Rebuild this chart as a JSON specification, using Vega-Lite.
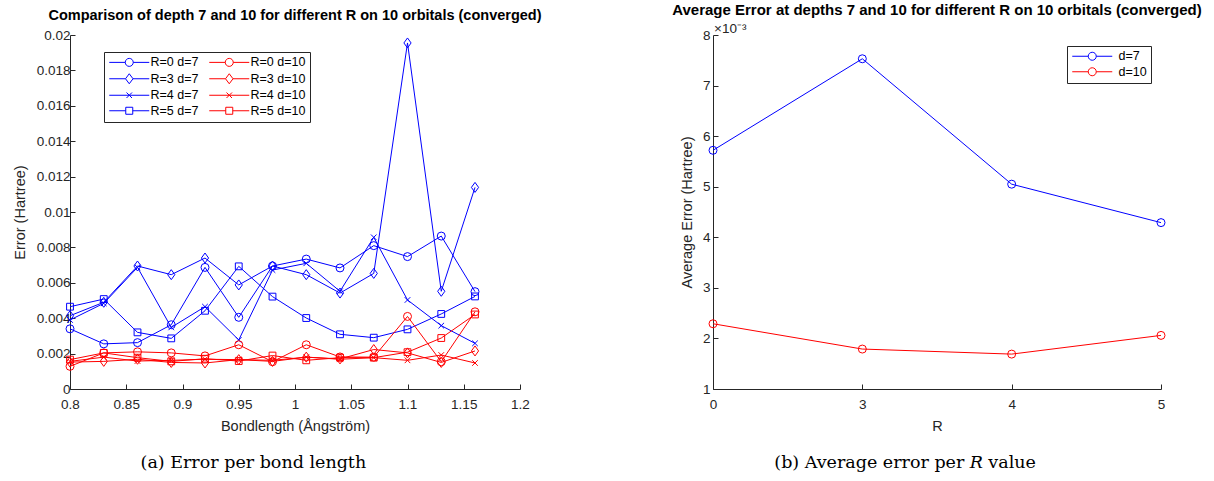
{
  "$schema": "https://vega.github.io/schema/vega-lite/v6.json",
  "background": "white",
  "padding": {"left": 12, "top": 3, "right": 4, "bottom": 4},
  "bounds": "flush",
  "spacing": 193,
  "resolve": {"scale": {"color": "independent", "shape": "independent"}, "legend": {"color": "independent"}},
  "config": {
    "view": {"stroke": null},
    "font": "Liberation Sans",
    "axis": {
      "grid": false,
      "domainColor": "#262626",
      "domainWidth": 1,
      "tickColor": "#262626",
      "tickWidth": 1,
      "tickSize": -5,
      "tickCount": 30,
      "labelColor": "#262626",
      "labelFont": "Liberation Sans",
      "labelFontSize": 13.5,
      "labelOverlap": false,
      "labelFlush": false,
      "titleColor": "#262626",
      "titleFont": "Liberation Sans",
      "titleFontSize": 14.5,
      "titleFontWeight": "normal"
    },
    "axisX": {"labelPadding": 13, "titlePadding": 9},
    "axisY": {"labelPadding": 5, "titlePadding": 9},
    "title": {"font": "Liberation Sans", "fontSize": 14.5, "fontWeight": "bold", "color": "black", "anchor": "middle"}
  },
  "datasets": {
    "bond": [
      {"b": 0.80, "s": "R=0 d=7", "R": "R=0", "e": 0.00340},
      {"b": 0.83, "s": "R=0 d=7", "R": "R=0", "e": 0.00255},
      {"b": 0.86, "s": "R=0 d=7", "R": "R=0", "e": 0.00262},
      {"b": 0.89, "s": "R=0 d=7", "R": "R=0", "e": 0.00363},
      {"b": 0.92, "s": "R=0 d=7", "R": "R=0", "e": 0.00687},
      {"b": 0.95, "s": "R=0 d=7", "R": "R=0", "e": 0.00405},
      {"b": 0.98, "s": "R=0 d=7", "R": "R=0", "e": 0.00695},
      {"b": 1.01, "s": "R=0 d=7", "R": "R=0", "e": 0.00734},
      {"b": 1.04, "s": "R=0 d=7", "R": "R=0", "e": 0.00684},
      {"b": 1.07, "s": "R=0 d=7", "R": "R=0", "e": 0.00810},
      {"b": 1.10, "s": "R=0 d=7", "R": "R=0", "e": 0.00748},
      {"b": 1.13, "s": "R=0 d=7", "R": "R=0", "e": 0.00864},
      {"b": 1.16, "s": "R=0 d=7", "R": "R=0", "e": 0.00550},

      {"b": 0.80, "s": "R=3 d=7", "R": "R=3", "e": 0.00414},
      {"b": 0.83, "s": "R=3 d=7", "R": "R=3", "e": 0.00490},
      {"b": 0.86, "s": "R=3 d=7", "R": "R=3", "e": 0.00695},
      {"b": 0.89, "s": "R=3 d=7", "R": "R=3", "e": 0.00646},
      {"b": 0.92, "s": "R=3 d=7", "R": "R=3", "e": 0.00740},
      {"b": 0.95, "s": "R=3 d=7", "R": "R=3", "e": 0.00588},
      {"b": 0.98, "s": "R=3 d=7", "R": "R=3", "e": 0.00695},
      {"b": 1.01, "s": "R=3 d=7", "R": "R=3", "e": 0.00646},
      {"b": 1.04, "s": "R=3 d=7", "R": "R=3", "e": 0.00542},
      {"b": 1.07, "s": "R=3 d=7", "R": "R=3", "e": 0.00653},
      {"b": 1.10, "s": "R=3 d=7", "R": "R=3", "e": 0.01955},
      {"b": 1.13, "s": "R=3 d=7", "R": "R=3", "e": 0.00552},
      {"b": 1.16, "s": "R=3 d=7", "R": "R=3", "e": 0.01139},

      {"b": 0.80, "s": "R=4 d=7", "R": "R=4", "e": 0.00390},
      {"b": 0.83, "s": "R=4 d=7", "R": "R=4", "e": 0.00484},
      {"b": 0.86, "s": "R=4 d=7", "R": "R=4", "e": 0.00687},
      {"b": 0.89, "s": "R=4 d=7", "R": "R=4", "e": 0.00348},
      {"b": 0.92, "s": "R=4 d=7", "R": "R=4", "e": 0.00465},
      {"b": 0.95, "s": "R=4 d=7", "R": "R=4", "e": 0.00277},
      {"b": 0.98, "s": "R=4 d=7", "R": "R=4", "e": 0.00672},
      {"b": 1.01, "s": "R=4 d=7", "R": "R=4", "e": 0.00710},
      {"b": 1.04, "s": "R=4 d=7", "R": "R=4", "e": 0.00552},
      {"b": 1.07, "s": "R=4 d=7", "R": "R=4", "e": 0.00857},
      {"b": 1.10, "s": "R=4 d=7", "R": "R=4", "e": 0.00503},
      {"b": 1.13, "s": "R=4 d=7", "R": "R=4", "e": 0.00358},
      {"b": 1.16, "s": "R=4 d=7", "R": "R=4", "e": 0.00258},

      {"b": 0.80, "s": "R=5 d=7", "R": "R=5", "e": 0.00465},
      {"b": 0.83, "s": "R=5 d=7", "R": "R=5", "e": 0.00508},
      {"b": 0.86, "s": "R=5 d=7", "R": "R=5", "e": 0.00320},
      {"b": 0.89, "s": "R=5 d=7", "R": "R=5", "e": 0.00286},
      {"b": 0.92, "s": "R=5 d=7", "R": "R=5", "e": 0.00442},
      {"b": 0.95, "s": "R=5 d=7", "R": "R=5", "e": 0.00693},
      {"b": 0.98, "s": "R=5 d=7", "R": "R=5", "e": 0.00522},
      {"b": 1.01, "s": "R=5 d=7", "R": "R=5", "e": 0.00401},
      {"b": 1.04, "s": "R=5 d=7", "R": "R=5", "e": 0.00309},
      {"b": 1.07, "s": "R=5 d=7", "R": "R=5", "e": 0.00290},
      {"b": 1.10, "s": "R=5 d=7", "R": "R=5", "e": 0.00337},
      {"b": 1.13, "s": "R=5 d=7", "R": "R=5", "e": 0.00424},
      {"b": 1.16, "s": "R=5 d=7", "R": "R=5", "e": 0.00523},

      {"b": 0.80, "s": "R=0 d=10", "R": "R=0", "e": 0.00128},
      {"b": 0.83, "s": "R=0 d=10", "R": "R=0", "e": 0.00204},
      {"b": 0.86, "s": "R=0 d=10", "R": "R=0", "e": 0.00210},
      {"b": 0.89, "s": "R=0 d=10", "R": "R=0", "e": 0.00204},
      {"b": 0.92, "s": "R=0 d=10", "R": "R=0", "e": 0.00187},
      {"b": 0.95, "s": "R=0 d=10", "R": "R=0", "e": 0.00250},
      {"b": 0.98, "s": "R=0 d=10", "R": "R=0", "e": 0.00154},
      {"b": 1.01, "s": "R=0 d=10", "R": "R=0", "e": 0.00250},
      {"b": 1.04, "s": "R=0 d=10", "R": "R=0", "e": 0.00181},
      {"b": 1.07, "s": "R=0 d=10", "R": "R=0", "e": 0.00180},
      {"b": 1.10, "s": "R=0 d=10", "R": "R=0", "e": 0.00410},
      {"b": 1.13, "s": "R=0 d=10", "R": "R=0", "e": 0.00154},
      {"b": 1.16, "s": "R=0 d=10", "R": "R=0", "e": 0.00436},

      {"b": 0.80, "s": "R=3 d=10", "R": "R=3", "e": 0.00152},
      {"b": 0.83, "s": "R=3 d=10", "R": "R=3", "e": 0.00156},
      {"b": 0.86, "s": "R=3 d=10", "R": "R=3", "e": 0.00168},
      {"b": 0.89, "s": "R=3 d=10", "R": "R=3", "e": 0.00150},
      {"b": 0.92, "s": "R=3 d=10", "R": "R=3", "e": 0.00147},
      {"b": 0.95, "s": "R=3 d=10", "R": "R=3", "e": 0.00166},
      {"b": 0.98, "s": "R=3 d=10", "R": "R=3", "e": 0.00156},
      {"b": 1.01, "s": "R=3 d=10", "R": "R=3", "e": 0.00180},
      {"b": 1.04, "s": "R=3 d=10", "R": "R=3", "e": 0.00170},
      {"b": 1.07, "s": "R=3 d=10", "R": "R=3", "e": 0.00223},
      {"b": 1.10, "s": "R=3 d=10", "R": "R=3", "e": 0.00204},
      {"b": 1.13, "s": "R=3 d=10", "R": "R=3", "e": 0.00150},
      {"b": 1.16, "s": "R=3 d=10", "R": "R=3", "e": 0.00215},

      {"b": 0.80, "s": "R=4 d=10", "R": "R=4", "e": 0.00156},
      {"b": 0.83, "s": "R=4 d=10", "R": "R=4", "e": 0.00180},
      {"b": 0.86, "s": "R=4 d=10", "R": "R=4", "e": 0.00158},
      {"b": 0.89, "s": "R=4 d=10", "R": "R=4", "e": 0.00162},
      {"b": 0.92, "s": "R=4 d=10", "R": "R=4", "e": 0.00168},
      {"b": 0.95, "s": "R=4 d=10", "R": "R=4", "e": 0.00166},
      {"b": 0.98, "s": "R=4 d=10", "R": "R=4", "e": 0.00162},
      {"b": 1.01, "s": "R=4 d=10", "R": "R=4", "e": 0.00180},
      {"b": 1.04, "s": "R=4 d=10", "R": "R=4", "e": 0.00168},
      {"b": 1.07, "s": "R=4 d=10", "R": "R=4", "e": 0.00177},
      {"b": 1.10, "s": "R=4 d=10", "R": "R=4", "e": 0.00162},
      {"b": 1.13, "s": "R=4 d=10", "R": "R=4", "e": 0.00192},
      {"b": 1.16, "s": "R=4 d=10", "R": "R=4", "e": 0.00147},

      {"b": 0.80, "s": "R=5 d=10", "R": "R=5", "e": 0.00166},
      {"b": 0.83, "s": "R=5 d=10", "R": "R=5", "e": 0.00204},
      {"b": 0.86, "s": "R=5 d=10", "R": "R=5", "e": 0.00177},
      {"b": 0.89, "s": "R=5 d=10", "R": "R=5", "e": 0.00156},
      {"b": 0.92, "s": "R=5 d=10", "R": "R=5", "e": 0.00171},
      {"b": 0.95, "s": "R=5 d=10", "R": "R=5", "e": 0.00158},
      {"b": 0.98, "s": "R=5 d=10", "R": "R=5", "e": 0.00189},
      {"b": 1.01, "s": "R=5 d=10", "R": "R=5", "e": 0.00162},
      {"b": 1.04, "s": "R=5 d=10", "R": "R=5", "e": 0.00177},
      {"b": 1.07, "s": "R=5 d=10", "R": "R=5", "e": 0.00177},
      {"b": 1.10, "s": "R=5 d=10", "R": "R=5", "e": 0.00208},
      {"b": 1.13, "s": "R=5 d=10", "R": "R=5", "e": 0.00288},
      {"b": 1.16, "s": "R=5 d=10", "R": "R=5", "e": 0.00421}
    ],
    "avg": [
      {"R": "0", "d": "d=7", "e": 0.00572},
      {"R": "3", "d": "d=7", "e": 0.00753},
      {"R": "4", "d": "d=7", "e": 0.00505},
      {"R": "5", "d": "d=7", "e": 0.00429},
      {"R": "0", "d": "d=10", "e": 0.00229},
      {"R": "3", "d": "d=10", "e": 0.00179},
      {"R": "4", "d": "d=10", "e": 0.00169},
      {"R": "5", "d": "d=10", "e": 0.00206}
    ]
  },
  "hconcat": [
    {
      "title": {"text": "Comparison of depth 7 and 10 for different R on 10 orbitals (converged)", "offset": 5},
      "width": 450,
      "height": 354,
      "layer": [
        {
          "data": {"name": "bond"},
          "mark": {"type": "line", "strokeWidth": 1},
          "encoding": {
            "x": {"field": "b", "type": "quantitative", "scale": {"domain": [0.8, 1.2], "nice": false, "zero": false},
                  "axis": {"title": "Bondlength (Ångström)", "values": [0.8, 0.85, 0.9, 0.95, 1.0, 1.05, 1.1, 1.15, 1.2], "labelExpr": "format(datum.value, '~g')", "labelOverlap": false}},
            "y": {"field": "e", "type": "quantitative", "scale": {"domain": [0, 0.02], "nice": false},
                  "axis": {"title": "Error (Hartree)", "values": [0, 0.002, 0.004, 0.006, 0.008, 0.01, 0.012, 0.014, 0.016, 0.018, 0.02], "tickCount": 30, "labelExpr": "format(datum.value, '~g')", "labelOverlap": false}},
            "color": {
              "field": "s", "type": "nominal",
              "scale": {
                "domain": ["R=0 d=7", "R=3 d=7", "R=4 d=7", "R=5 d=7", "R=0 d=10", "R=3 d=10", "R=4 d=10", "R=5 d=10"],
                "range": ["#0000ff", "#0000ff", "#0000ff", "#0000ff", "#ff0000", "#ff0000", "#ff0000", "#ff0000"]
              },
              "legend": {
                "title": null,
                "orient": "none",
                "legendX": 34,
                "legendY": 17,
                "columns": 2,
                "fillColor": "white",
                "strokeColor": "#262626",
                "padding": 4,
                "rowPadding": 2.5,
                "columnPadding": 8,
                "symbolSize": 100,
                "symbolStrokeWidth": 1,
                "symbolOffset": 15,
                "labelOffset": 15,
                "labelFont": "Liberation Sans",
                "labelFontSize": 12.5,
                "labelColor": "black",
                "encode": {
                  "symbols": {
                    "update": {
                      "fill": {"value": "transparent"},
                      "shape": {"signal": "indexof(datum.value,'R=0')===0 ? 'M-4,0H-0.8M0.8,0H4M-0.8,0A0.8,0.8,0,1,1,0.8,0A0.8,0.8,0,1,1,-0.8,0' : indexof(datum.value,'R=3')===0 ? 'M-4,0H-0.75M0.75,0H4M-0.75,0L0,-1L0.75,0L0,1Z' : indexof(datum.value,'R=4')===0 ? 'M-4,0H4M-0.55,-0.55L0.55,0.55M-0.55,0.55L0.55,-0.55' : 'M-4,0H-0.7M0.7,0H4M-0.7,-0.7H0.7V0.7H-0.7Z'"}
                    }
                  }
                }
              }
            }
          }
        },
        {
          "data": {"name": "bond"},
          "mark": {"type": "point", "filled": false, "size": 64, "strokeWidth": 1, "opacity": 1},
          "encoding": {
            "x": {"field": "b", "type": "quantitative"},
            "y": {"field": "e", "type": "quantitative"},
            "color": {"field": "s", "type": "nominal"},
            "shape": {
              "field": "R", "type": "nominal", "legend": null,
              "scale": {
                "domain": ["R=0", "R=3", "R=4", "R=5"],
                "range": ["circle", "M0,-1.25L0.9,0L0,1.25L-0.9,0Z", "M-0.7,-0.7L0.7,0.7M-0.7,0.7L0.7,-0.7", "M-0.85,-0.85H0.85V0.85H-0.85Z"]
              }
            }
          }
        },
        {
          "data": {"values": [{"caption": "(a) Error per bond length"}]},
          "mark": {"type": "text", "font": "DejaVu Serif", "fontSize": 17.5, "color": "black", "align": "center", "baseline": "middle", "dy": 74},
          "encoding": {
            "x": {"datum": 0.963, "type": "quantitative"},
            "y": {"datum": 0, "type": "quantitative"},
            "text": {"field": "caption"}
          }
        }
      ]
    },
    {
      "title": {"text": "Average Error at depths 7 and 10 for different R on 10 orbitals (converged)", "offset": 4, "fontSize": 15},
      "width": 448,
      "height": 354,
      "layer": [
        {
          "data": {"name": "avg"},
          "mark": {"type": "line", "strokeWidth": 1},
          "encoding": {
            "x": {"field": "R", "type": "ordinal", "scale": {"type": "point", "padding": 0, "domain": ["0", "3", "4", "5"]},
                  "axis": {"title": "R", "labelAngle": 0}},
            "y": {"field": "e", "type": "quantitative", "scale": {"domain": [0.001, 0.008], "nice": false, "zero": false},
                  "axis": {"title": "Average Error (Hartree)", "values": [0.001, 0.002, 0.003, 0.004, 0.005, 0.006, 0.007, 0.008], "tickCount": 30, "labelExpr": "'' + round(datum.value * 1000)", "labelOverlap": false, "labelPadding": 8, "titlePadding": 8}},
            "color": {
              "field": "d", "type": "nominal",
              "scale": {"domain": ["d=7", "d=10"], "range": ["#0000ff", "#ff0000"]},
              "legend": {
                "title": null,
                "orient": "none",
                "legendX": 354,
                "legendY": 11,
                "fillColor": "white",
                "strokeColor": "#262626",
                "padding": 4,
                "rowPadding": 2.5,
                "symbolSize": 100,
                "symbolStrokeWidth": 1,
                "symbolOffset": 15,
                "labelOffset": 20,
                "labelFont": "Liberation Sans",
                "labelFontSize": 12.5,
                "labelColor": "black",
                "symbolType": "M-4,0H-0.8M0.8,0H4M-0.8,0A0.8,0.8,0,1,1,0.8,0A0.8,0.8,0,1,1,-0.8,0",
                "encode": {"symbols": {"update": {"fill": {"value": "transparent"}}}}
              }
            }
          }
        },
        {
          "data": {"name": "avg"},
          "mark": {"type": "point", "filled": false, "size": 64, "strokeWidth": 1, "opacity": 1, "shape": "circle"},
          "encoding": {
            "x": {"field": "R", "type": "ordinal"},
            "y": {"field": "e", "type": "quantitative"},
            "color": {"field": "d", "type": "nominal"}
          }
        },
        {
          "data": {"values": [{"label": "×10⁻³"}]},
          "mark": {"type": "text", "font": "Liberation Sans", "fontSize": 13.5, "color": "#262626", "align": "left", "baseline": "bottom", "dx": 1, "dy": 1},
          "encoding": {
            "x": {"datum": "0", "type": "ordinal"},
            "y": {"datum": 0.008, "type": "quantitative"},
            "text": {"field": "label"}
          }
        },
        {
          "data": {"values": [{"part": "(b) Average error per"}]},
          "mark": {"type": "text", "font": "DejaVu Serif", "fontSize": 17.5, "color": "black", "align": "right", "baseline": "middle", "dy": 74, "dx": 102},
          "encoding": {
            "x": {"datum": "3", "type": "ordinal"},
            "y": {"datum": 0.001, "type": "quantitative"},
            "text": {"field": "part"}
          }
        },
        {
          "data": {"values": [{"part": "R"}]},
          "mark": {"type": "text", "font": "DejaVu Serif", "fontSize": 17.5, "fontStyle": "italic", "color": "black", "align": "center", "baseline": "middle", "dy": 74, "dx": 114},
          "encoding": {
            "x": {"datum": "3", "type": "ordinal"},
            "y": {"datum": 0.001, "type": "quantitative"},
            "text": {"field": "part"}
          }
        },
        {
          "data": {"values": [{"part": "value"}]},
          "mark": {"type": "text", "font": "DejaVu Serif", "fontSize": 17.5, "color": "black", "align": "left", "baseline": "middle", "dy": 74, "dx": 126},
          "encoding": {
            "x": {"datum": "3", "type": "ordinal"},
            "y": {"datum": 0.001, "type": "quantitative"},
            "text": {"field": "part"}
          }
        }
      ]
    }
  ]
}
